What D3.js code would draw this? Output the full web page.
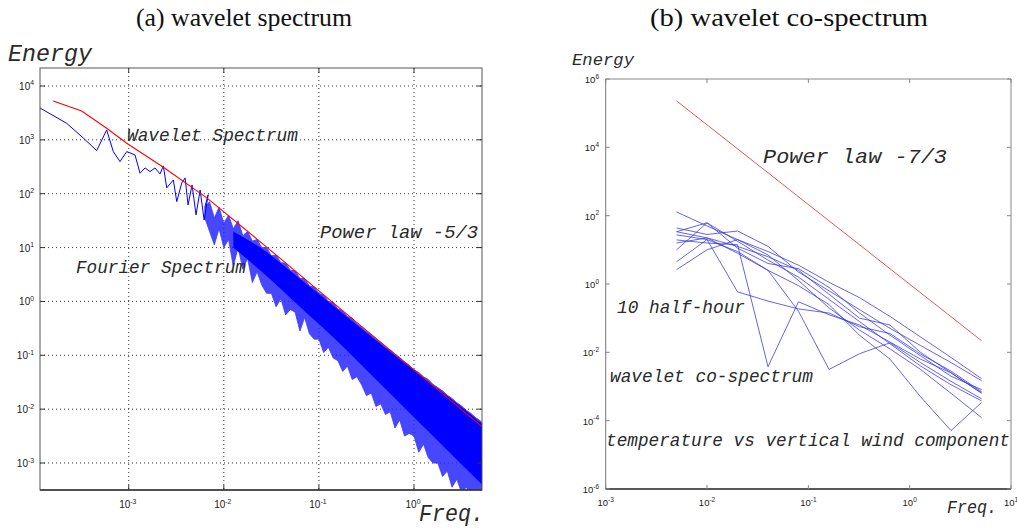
<!DOCTYPE html>
<html><head><meta charset="utf-8">
<script src="https://cdn.jsdelivr.net/npm/d3@7"></script>
<style>body{margin:0;background:#fff}svg{display:block}</style>
</head><body>
<svg id="c" width="1017" height="528"></svg>
<script>
// ---------- DATA (log10 values) ----------
// (a) wavelet spectrum (red)
const waveletLogF = [-3.794,-3.495,-3.232,-3.021,-2.639,-2.179,-1.565,-0.723,0.0,0.719];
const waveletLogE = [3.722,3.536,3.215,2.937,2.497,1.922,1.032,-0.212,-1.27,-2.33];
// (a) Fourier spectrum, low-frequency part (blue line)
const fourierLogF = [-3.934,-3.653,-3.478,-3.337,-3.232,-3.162,-3.092,-3.021,-2.934,-2.881,-2.828,-2.776,-2.723,-2.671,-2.636,-2.600,-2.531,-2.495,-2.442,-2.407,-2.376,-2.334,-2.292,-2.249,-2.207,-2.165];
const fourierLogE = [3.592,3.308,3.035,2.800,3.184,2.781,2.596,2.781,2.720,2.380,2.479,2.410,2.479,2.367,2.516,2.108,2.256,1.853,2.200,2.293,1.792,2.163,1.607,2.070,1.510,1.980];
// (a) Fourier spectrum, dense high-frequency part (envelope of the noise)
const bandLogF = [-2.20,-2.15,-2.10,-2.05,-2.00,-1.95,-1.90,-1.85,-1.80,-1.75,-1.70,-1.65,-1.60,-1.55,-1.50,-1.45,-1.40,-1.35,-1.30,-1.25,-1.20,-1.15,-1.10,-1.05,-1.00,-0.95,-0.90,-0.85,-0.80,-0.75,-0.70,-0.65,-0.60,-0.55,-0.50,-0.45,-0.40,-0.35,-0.30,-0.25,-0.20,-0.15,-0.10,-0.05,0.00,0.05,0.10,0.15,0.20,0.25,0.30,0.35,0.40,0.45,0.50,0.55,0.60,0.65,0.70,0.715];
const bandUpperLogE = [1.75,1.85,1.55,1.75,1.45,1.60,1.35,1.50,1.22,1.30,1.12,1.15,1.00,1.00,0.85,0.86,0.72,0.71,0.58,0.57,0.43,0.42,0.29,0.27,0.15,0.12,0.00,-0.02,-0.14,-0.17,-0.28,-0.31,-0.42,-0.48,-0.56,-0.62,-0.70,-0.76,-0.85,-0.90,-0.99,-1.04,-1.13,-1.18,-1.27,-1.32,-1.40,-1.45,-1.54,-1.60,-1.66,-1.74,-1.80,-1.88,-1.94,-2.02,-2.08,-2.16,-2.22,-2.25];
const bandLowerLogE = [1.55,1.30,1.05,1.35,1.00,1.15,0.65,1.00,0.60,0.80,0.35,0.55,0.30,0.15,0.15,-0.10,0.05,-0.25,-0.15,-0.20,-0.55,-0.30,-0.60,-0.70,-0.70,-0.95,-0.85,-1.05,-1.10,-1.30,-1.20,-1.45,-1.40,-1.55,-1.75,-1.70,-1.95,-1.90,-2.10,-2.05,-2.35,-2.20,-2.50,-2.45,-2.50,-2.80,-2.65,-2.90,-3.00,-3.00,-3.25,-3.15,-3.45,-3.30,-3.55,-3.45,-3.60,-3.60,-3.60,-3.60];
const coreLogF = [-1.9,-1.6,-1.2,-0.8,-0.4,0.0,0.4,0.715];
const coreUpperLogE = [1.30,0.98,0.42,-0.15,-0.72,-1.28,-1.82,-2.27];
const coreLowerLogE = [1.00,0.55,-0.10,-0.75,-1.45,-2.15,-2.85,-3.40];

// (b) wavelet co-spectrum: frequencies and 10 half-hour series (log10 energy)
const coFreq = [0.005,0.01,0.02,0.04,0.08,0.16,0.32,0.64,1.28,2.56,5.12];
const coSeries = [
  [2.11,1.70,1.30,0.95,0.55,0.05,-0.40,-0.95,-1.55,-2.15,-2.77],
  [1.64,1.45,1.55,1.10,0.35,-0.20,-0.75,-1.30,-1.80,-2.30,-2.83],
  [1.53,1.79,1.05,0.60,0.45,-0.10,-0.85,-1.50,-2.10,-2.70,-3.09],
  [1.44,1.30,-0.23,-0.50,-0.73,-0.85,-1.25,-1.45,-2.05,-2.55,-3.15],
  [1.29,1.20,1.15,-2.42,-0.52,-0.90,-1.20,-1.70,-2.20,-2.60,-3.18],
  [1.20,1.35,0.90,0.40,-0.80,-2.50,-2.04,-1.72,-2.30,-2.85,-3.36],
  [1.00,1.79,1.25,0.70,0.20,-0.45,-1.10,-1.75,-2.40,-2.95,-3.42],
  [0.65,1.30,0.95,0.40,-0.05,-0.60,-1.50,-2.20,-3.30,-4.29,-3.47],
  [0.42,1.00,1.30,0.85,0.10,-0.70,-1.35,-1.90,-2.50,-3.20,-3.91],
  [1.53,1.35,1.10,0.80,0.40,-0.30,-1.00,-1.20,-2.00,-2.60,-3.20]
];
// (b) power law -7/3
const powerFreq = [0.005,5.12];
const powerLogE = [5.36,-1.66];

// tick exponents
const aXTicks = [-3,-2,-1,0];
const aYTicks = [4,3,2,1,0,-1,-2,-3];
const bXTicks = [-3,-2,-1,0,1];
const bYTicks = [6,4,2,0,-2,-4,-6];

// ---------- DRAW ----------
const svg = d3.select("#c");
const P = v => Math.pow(10, v);
const monoFont = "'Liberation Mono','Courier New',monospace";
const sansFont = "'Liberation Sans',Arial,Helvetica,sans-serif";
const serifFont = "'Liberation Serif','Times New Roman',serif";

function tickLabel(g, x, y, exp, size, anchor) {
  const t = g.append("text").attr("x", x).attr("y", y)
    .attr("font-family", sansFont).attr("font-size", size).attr("fill", "#222")
    .attr("text-anchor", anchor);
  t.append("tspan").text("10");
  t.append("tspan").attr("dy", -size*0.45).attr("font-size", size*0.68).text(String(exp));
}

// ===== Panel (a) =====
const ax = d3.scaleLog().domain([P(-3.933), P(0.715)]).range([40, 482]);
const ay = d3.scaleLog().domain([P(-3.501), P(4.334)]).range([490, 68]);
const ga = svg.append("g");
ga.append("clipPath").attr("id", "clipA").append("rect")
  .attr("x", 40).attr("y", 68).attr("width", 442).attr("height", 422);

// grid
aXTicks.forEach(e => ga.append("line").attr("x1", ax(P(e))).attr("x2", ax(P(e)))
  .attr("y1", 68).attr("y2", 490).attr("stroke", "#333").attr("stroke-width", 1)
  .attr("stroke-dasharray", "1,3"));
aYTicks.forEach(e => ga.append("line").attr("y1", ay(P(e))).attr("y2", ay(P(e)))
  .attr("x1", 40).attr("x2", 482).attr("stroke", "#333").attr("stroke-width", 1)
  .attr("stroke-dasharray", "1,3"));

const plotA = ga.append("g").attr("clip-path", "url(#clipA)");
const bandArea = d3.area().x(d => ax(P(d[0]))).y0(d => ay(P(d[2]))).y1(d => ay(P(d[1])));
plotA.append("path")
  .datum(bandLogF.map((f, i) => [f, bandUpperLogE[i], bandLowerLogE[i]]))
  .attr("d", bandArea).attr("fill", "#1f1fff").attr("fill-opacity", 0.82)
  .attr("stroke", "#3a3aff").attr("stroke-width", 0.8);
plotA.append("path")
  .datum(coreLogF.map((f, i) => [f, coreUpperLogE[i], coreLowerLogE[i]]))
  .attr("d", bandArea.curve(d3.curveMonotoneX)).attr("fill", "#0000ff");
const lineA = d3.line().x(d => ax(P(d[0]))).y(d => ay(P(d[1])));
plotA.append("path")
  .datum(fourierLogF.map((f, i) => [f, fourierLogE[i]]).concat([[bandLogF[0], bandUpperLogE[0]]]))
  .attr("d", lineA).attr("fill", "none").attr("stroke", "#0000ff").attr("stroke-width", 1);
plotA.append("path")
  .datum(waveletLogF.map((f, i) => [f, waveletLogE[i]]))
  .attr("d", lineA).attr("fill", "none").attr("stroke", "#ff0000").attr("stroke-width", 1.1);

// box & ticks
ga.append("rect").attr("x", 40).attr("y", 68).attr("width", 442).attr("height", 422)
  .attr("fill", "none").attr("stroke", "#555").attr("stroke-width", 1);
ga.append("line").attr("x1", 40).attr("x2", 482).attr("y1", 490).attr("y2", 490)
  .attr("stroke", "#333").attr("stroke-width", 1.3);
aXTicks.forEach(e => {
  const x = ax(P(e));
  ga.append("line").attr("x1", x).attr("x2", x).attr("y1", 490).attr("y2", 485).attr("stroke", "#333");
  ga.append("line").attr("x1", x).attr("x2", x).attr("y1", 68).attr("y2", 73).attr("stroke", "#333");
  tickLabel(ga, x - 1, 508, e, 10, "middle");
});
aYTicks.forEach(e => {
  const y = ay(P(e));
  ga.append("line").attr("x1", 40).attr("x2", 45).attr("y1", y).attr("y2", y).attr("stroke", "#333");
  ga.append("line").attr("x1", 482).attr("x2", 477).attr("y1", y).attr("y2", y).attr("stroke", "#333");
  tickLabel(ga, 34, y + 4, e, 10, "end");
});

// texts (a)
svg.append("text").attr("x", 244).attr("y", 26).attr("text-anchor", "middle")
  .attr("font-family", serifFont).attr("font-size", 25).attr("fill", "#111")
  .attr("textLength", 216).attr("lengthAdjust", "spacingAndGlyphs").text("(a) wavelet spectrum");
const mono = (x, y, size, txt, len) => {
  const t = svg.append("text").attr("x", x).attr("y", y).attr("font-family", monoFont)
    .attr("font-style", "italic").attr("font-size", size).attr("fill", "#2a2a2a").text(txt);
  if (len) t.attr("textLength", len).attr("lengthAdjust", "spacingAndGlyphs");
};
mono(8, 61, 23, "Energy", 84);
mono(419, 521, 23, "Freq.", 65);
mono(127, 141, 17.5, "Wavelet Spectrum", 171);
mono(320, 238, 18, "Power law -5/3", 158);
mono(76, 273, 17.5, "Fourier Spectrum", 170);

// ===== Panel (b) =====
const bx = d3.scaleLog().domain([1e-3, 1e1]).range([605.7, 1011]);
const by = d3.scaleLog().domain([1e-6, 1e6]).range([489, 79]);
const gb = svg.append("g");
gb.append("clipPath").attr("id", "clipB").append("rect")
  .attr("x", 605.7).attr("y", 79).attr("width", 405.3).attr("height", 410);
const plotB = gb.append("g").attr("clip-path", "url(#clipB)");
const lineB = d3.line().x(d => bx(d[0])).y(d => by(P(d[1])));
coSeries.forEach(s => plotB.append("path")
  .datum(coFreq.map((f, i) => [f, s[i]]))
  .attr("d", lineB).attr("fill", "none").attr("stroke", "#3535e0")
  .attr("stroke-width", 0.9).attr("stroke-opacity", 0.85));
plotB.append("path").datum(powerFreq.map((f, i) => [f, powerLogE[i]]))
  .attr("d", lineB).attr("fill", "none").attr("stroke", "#e05a5a").attr("stroke-width", 1);

// axes (b)
gb.append("line").attr("x1", 605.7).attr("x2", 1011).attr("y1", 79).attr("y2", 79).attr("stroke", "#888");
gb.append("line").attr("x1", 1011).attr("x2", 1011).attr("y1", 79).attr("y2", 489).attr("stroke", "#888");
gb.append("line").attr("x1", 605.7).attr("x2", 605.7).attr("y1", 79).attr("y2", 489).attr("stroke", "#777");
gb.append("line").attr("x1", 605.7).attr("x2", 1011).attr("y1", 489).attr("y2", 489).attr("stroke", "#222").attr("stroke-width", 1.5);
bXTicks.forEach(e => {
  const x = bx(P(e));
  gb.append("line").attr("x1", x).attr("x2", x).attr("y1", 489).attr("y2", 485).attr("stroke", "#888");
  gb.append("line").attr("x1", x).attr("x2", x).attr("y1", 79).attr("y2", 83).attr("stroke", "#888");
  tickLabel(gb, x, 506, e, 9.5, "middle");
});
bYTicks.forEach(e => {
  const y = by(P(e));
  gb.append("line").attr("x1", 605.7).attr("x2", 609.7).attr("y1", y).attr("y2", y).attr("stroke", "#888");
  gb.append("line").attr("x1", 1011).attr("x2", 1007).attr("y1", y).attr("y2", y).attr("stroke", "#888");
  tickLabel(gb, 599, y + 4, e, 9.5, "end");
});

// texts (b)
svg.append("text").attr("x", 789).attr("y", 26).attr("text-anchor", "middle")
  .attr("font-family", serifFont).attr("font-size", 25).attr("fill", "#111")
  .attr("textLength", 278).attr("lengthAdjust", "spacingAndGlyphs").text("(b) wavelet co-spectrum");
mono(572, 65, 17, "Energy", 62);
mono(947, 513, 18, "Freq.", 50);
mono(763, 163, 21, "Power law -7/3", 184);
mono(617, 313, 17.5, "10 half-hour", 128);
mono(610, 382, 17.5, "wavelet co-spectrum", 203);
mono(606, 446, 17.5, "temperature vs vertical wind component", 404);
</script>
</body></html>
